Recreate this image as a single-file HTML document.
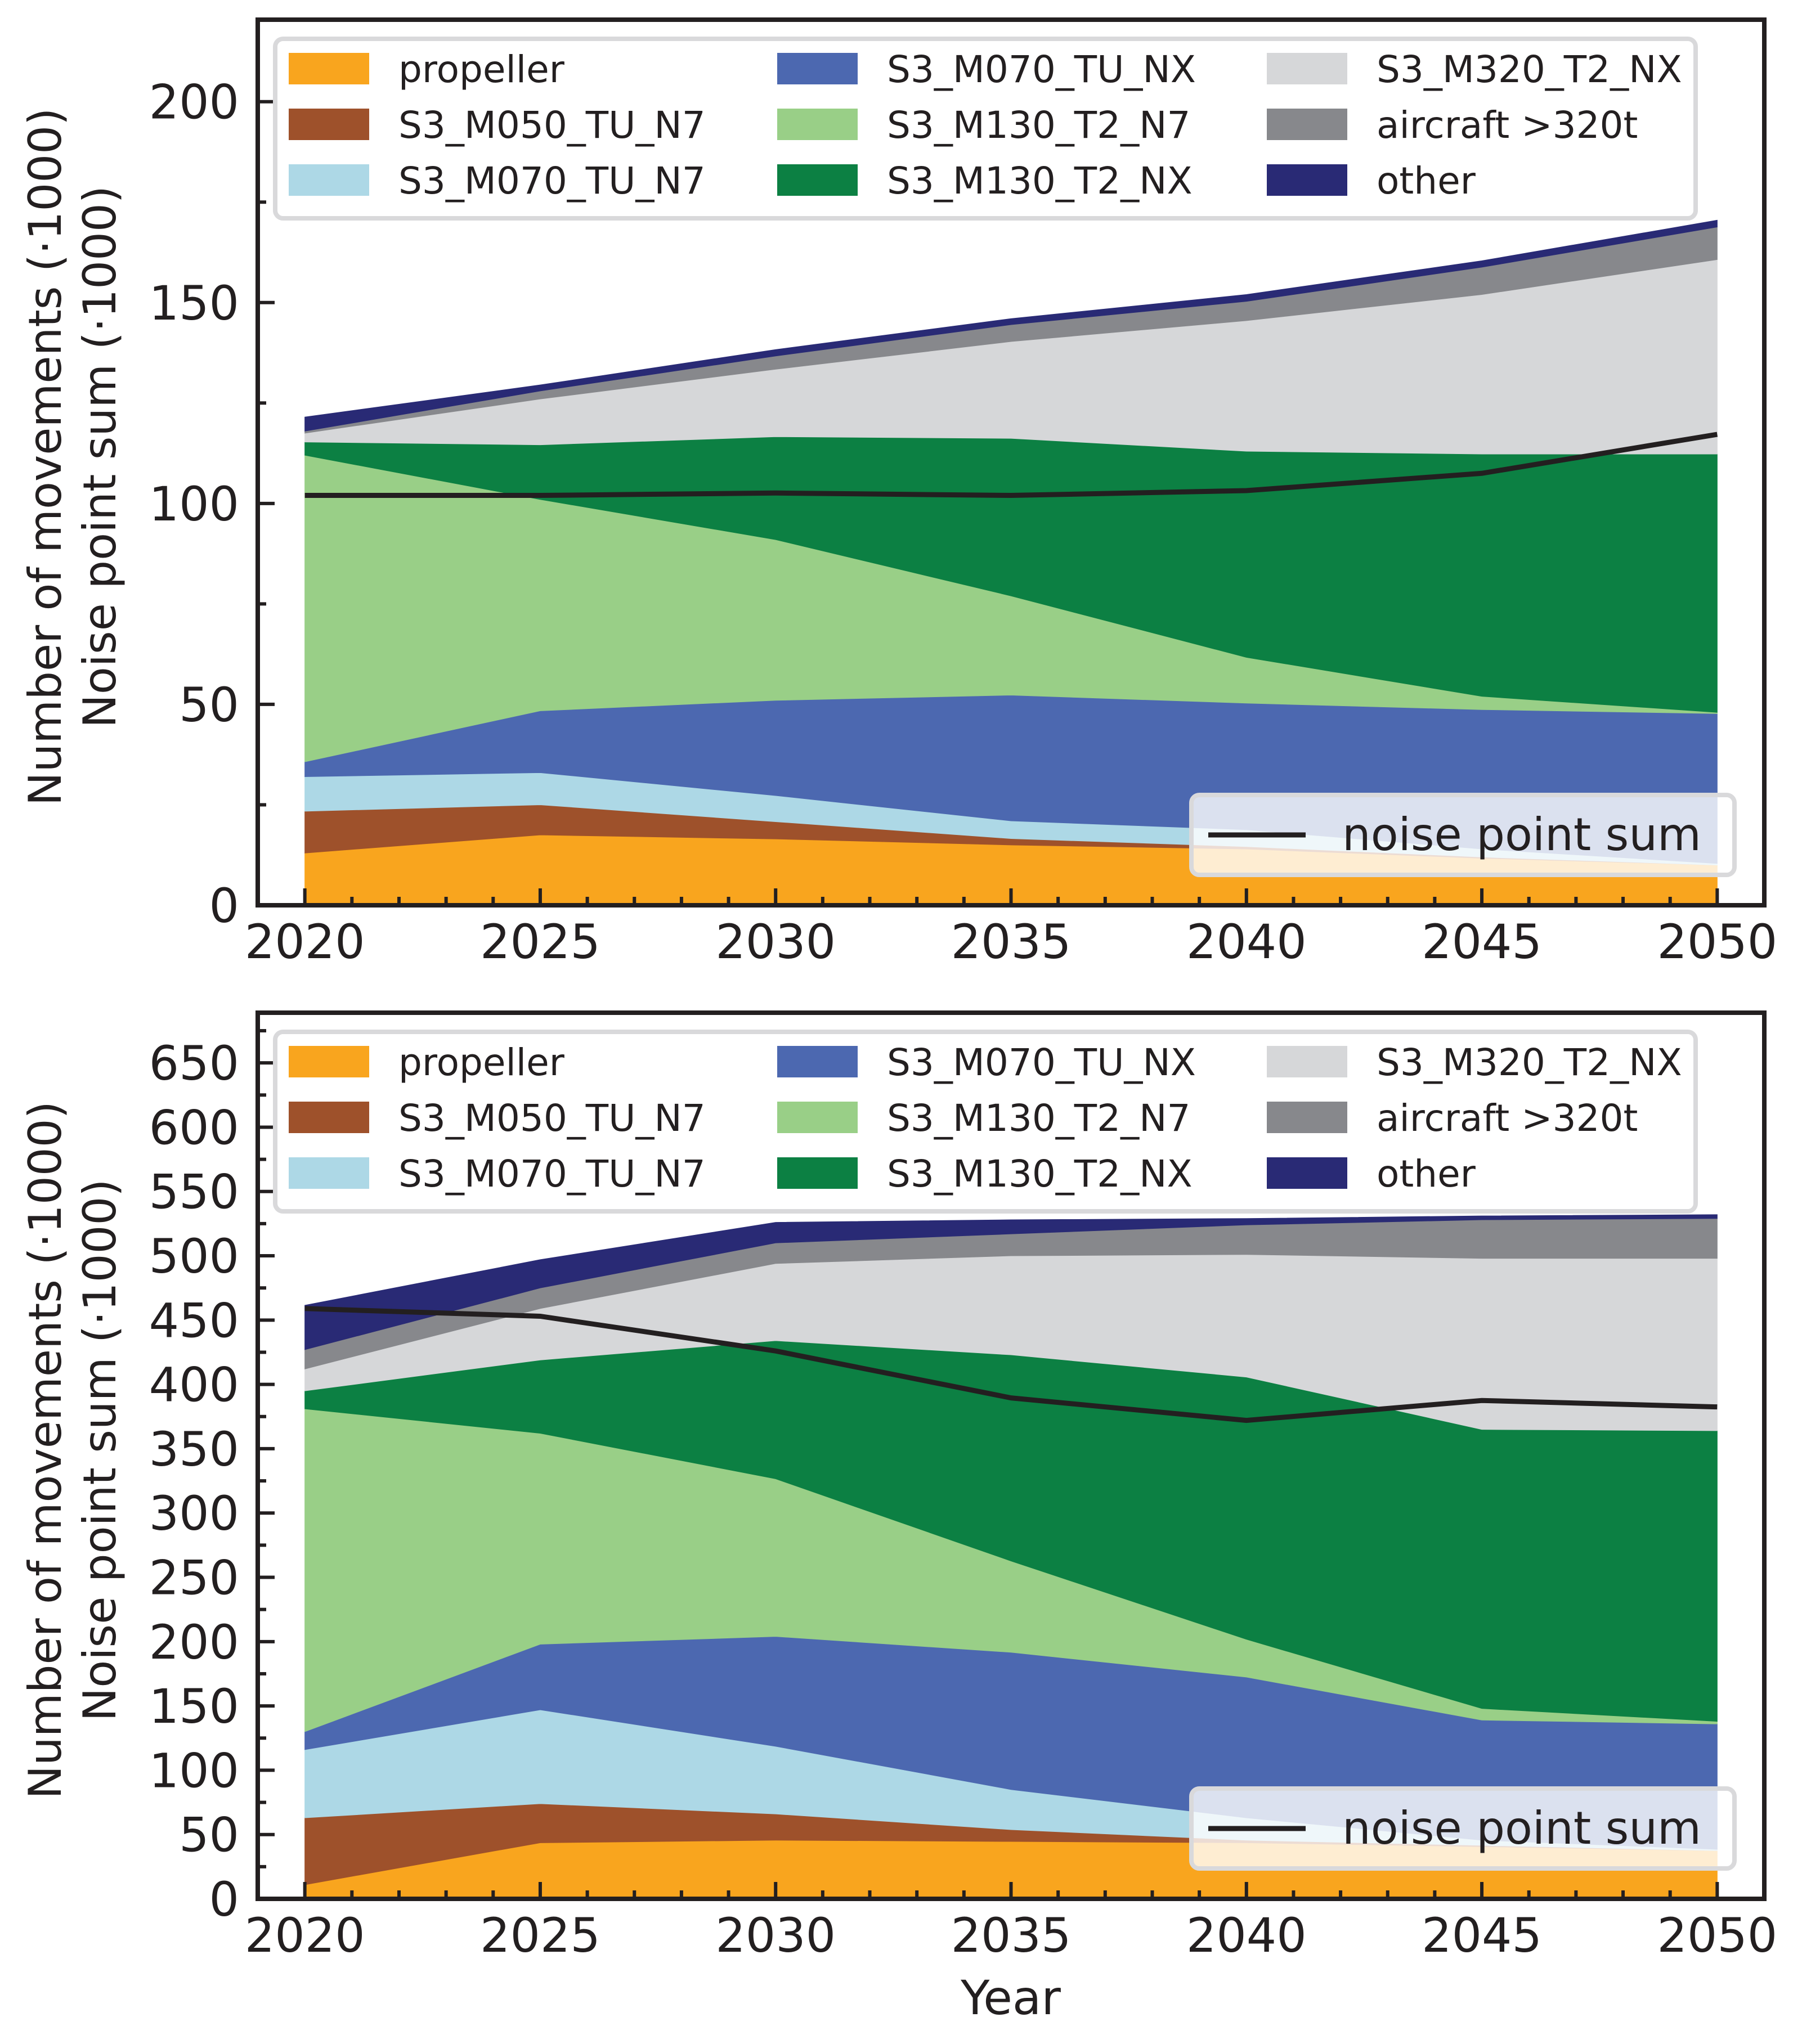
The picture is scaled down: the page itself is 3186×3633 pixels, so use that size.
<!DOCTYPE html>
<html><head><meta charset="utf-8"><style>
html,body{margin:0;padding:0;background:#fff}
svg{display:block}
text{font-family:"DejaVu Sans","Liberation Sans",sans-serif;fill:#231F20}
</style></head><body>
<svg id="chart" width="3186" height="3633" viewBox="0 0 3186 3633" xmlns="http://www.w3.org/2000/svg"></svg>
<script>
const years = [2020, 2025, 2030, 2035, 2040, 2045, 2050];
const seriesNames = ["propeller","S3_M050_TU_N7","S3_M070_TU_N7","S3_M070_TU_NX","S3_M130_T2_N7","S3_M130_T2_NX","S3_M320_T2_NX","aircraft >320t","other"];
const seriesColors = ["#F9A51E","#9E512B","#ADD8E6","#4C68B0","#99CF87","#0C8043","#D6D7D9","#87888C","#292A75"];
// top panel layer values (thousands)
const topPropeller = [13,17.5,16.5,15,14,11.7,10];
const topM050N7 = [10.4,7.5,4.3,1.6,0.6,0.3,0];
const topM070N7 = [8.6,8,6.5,4.4,4.2,2,0.4];
const topM070NX = [3.7,15.4,23.7,31.3,31.5,34.7,37.3];
const topM130N7 = [76.3,52.6,40,24.7,11.4,3.3,0.3];
const topM130NX = [3.3,13.6,25.6,39.2,51.3,60.3,64.3];
const topM320NX = [2.2,11.4,16.8,24.1,32.5,39.7,48.4];
const topLarge = [0.5,2,3.3,4.2,4.8,6.8,8.1];
const topOther = [3.5,1.5,1.6,1.5,1.7,1.6,1.7];
const topNoise = [102,102,102.6,102,103.2,107.5,117.2];
const topTicks = [0,50,100,150,200];
// bottom panel layer values
const botPropeller = [11,43.6,45.6,44.6,43.6,40.6,37.5];
const botM050N7 = [52,30.4,20.4,9.2,2,1,0];
const botM070N7 = [53,73,52.6,31.2,17.4,4,1];
const botM070NX = [14,51,85.4,106.7,109.4,93.4,97.5];
const botM130N7 = [251,164,122.6,71,29.4,9,2];
const botM130NX = [14,57,107.4,160.3,203.9,217,226];
const botM320NX = [17,40,60,77,95.3,133,134];
const botLarge = [15,16,16,17,23,30,31];
const botOther = [34.5,22,16,11,5,3,3];
const botNoise = [459,453,426,389.5,372,387.5,382.5];
const botTicks = [0,50,100,150,200,250,300,350,400,450,500,550,600,650];
const xTicks = [2020,2025,2030,2035,2040,2045,2050];

const NS="http://www.w3.org/2000/svg";
const svg=document.getElementById('chart');
function mk(tag,attrs,parent){const e=document.createElementNS(NS,tag);for(const k in attrs)e.setAttribute(k,attrs[k]);(parent||svg).appendChild(e);return e;}

const X0=458,X1=3135,XMIN=2019,XMAX=2051;
function xs(v){return X0+(v-XMIN)/(XMAX-XMIN)*(X1-X0);}

function panel(cfg){
  const g=mk('g',{});
  
  
  const ys=v=>cfg.yb-(v-0)/(cfg.ymax)*(cfg.yb-cfg.yt);
  let base=years.map(()=>0);
  cfg.layers.forEach((arr,i)=>{
    const top=base.map((b,j)=>b+arr[j]);
    let d='M'+years.map((y,j)=>xs(y)+','+ys(top[j])).join(' L');
    for(let j=years.length-1;j>=0;j--) d+=' L'+xs(years[j])+','+ys(base[j]);
    d+=' Z';
    const p=mk('path',{d:d,fill:seriesColors[i],stroke:seriesColors[i],'stroke-width':1},g);
    
    
    base=top;
  });
  const nl=mk('polyline',{points:years.map((y,j)=>xs(y)+','+ys(cfg.noise[j])).join(' '),fill:'none',stroke:'#231F20','stroke-width':9},g);
  
  
  for(let yr=2020;yr<=2050;yr++){
    const major=yr%5===0;
    const t=mk('line',{x1:xs(yr),x2:xs(yr),y1:cfg.yb,y2:cfg.yb-(major?30:15),stroke:'#231F20','stroke-width':6},g);
    
    
  }
  xTicks.forEach(v=>{
    const t=mk('text',{x:xs(v),y:cfg.yb+94,'font-size':84,'text-anchor':'middle'},g);
    t.textContent=v;
    
    
  });
  for(let v=0;v<=cfg.ymax;v+=25){
    const major=v%50===0;
    const t=mk('line',{x1:X0,x2:X0+(major?30:15),y1:ys(v),y2:ys(v),stroke:'#231F20','stroke-width':6},g);
    
    
  }
  cfg.ticks.forEach(v=>{
    const t=mk('text',{x:425,y:ys(v)+30,'font-size':84,'text-anchor':'end'},g);
    t.textContent=v;
    
    
  });
  const fr=mk('rect',{x:X0,y:cfg.yt,width:X1-X0,height:cfg.yb-cfg.yt,fill:'none',stroke:'#231F20','stroke-width':8},g);
  
  
  const cy=(cfg.yt+cfg.yb)/2;
  const l1=mk('text',{x:0,y:0,'font-size':80,'text-anchor':'middle',transform:`translate(108,${cy-10}) rotate(-90)`},g);
  l1.textContent='Number of movements (·1000)';
  
  
  const l2=mk('text',{x:0,y:0,'font-size':80,'text-anchor':'middle',transform:`translate(205,${cy-10}) rotate(-90)`},g);
  l2.textContent='Noise point sum (·1000)';
  
  
  const lt=cfg.yt+34;
  const lg=mk('g',{},g);
  
  
  mk('rect',{x:489,y:lt,width:2524,height:319,rx:14,fill:'#fff','fill-opacity':0.85,stroke:'#D9D9DB','stroke-width':8},lg);
  const colX=[513,1381,2251];
  seriesNames.forEach((n,i)=>{
    const c=Math.floor(i/3),r=i%3;
    const ry=lt+53+r*99;
    const sw=mk('rect',{x:colX[c],y:ry-28,width:143,height:56,fill:seriesColors[i]},lg);
    
    
    const t=mk('text',{x:colX[c]+195,y:ry+24,'font-size':66},lg);
    t.textContent=n;
    
    
  });
  const nb=cfg.yb-196;
  const ng=mk('g',{},g);
  
  
  mk('rect',{x:2117,y:nb,width:965,height:142,rx:14,fill:'#fff','fill-opacity':0.8,stroke:'#D9D9DB','stroke-width':8},ng);
  mk('line',{x1:2147,x2:2320,y1:nb+71,y2:nb+71,stroke:'#231F20','stroke-width':9},ng);
  const nt=mk('text',{x:2385,y:nb+98,'font-size':80},ng);
  nt.textContent='noise point sum';
  
  
}

panel({name:'top-panel',yt:35,yb:1609,ymax:220.4,ticks:topTicks,noise:topNoise,
  layers:[topPropeller,topM050N7,topM070N7,topM070NX,topM130N7,topM130NX,topM320NX,topLarge,topOther]});
panel({name:'bottom-panel',yt:1800,yb:3375,ymax:689,ticks:botTicks,noise:botNoise,
  layers:[botPropeller,botM050N7,botM070N7,botM070NX,botM130N7,botM130NX,botM320NX,botLarge,botOther]});

const xl=mk('text',{x:1796,y:3580,'font-size':84,'text-anchor':'middle'});
xl.textContent='Year';


</script>
</body></html>
